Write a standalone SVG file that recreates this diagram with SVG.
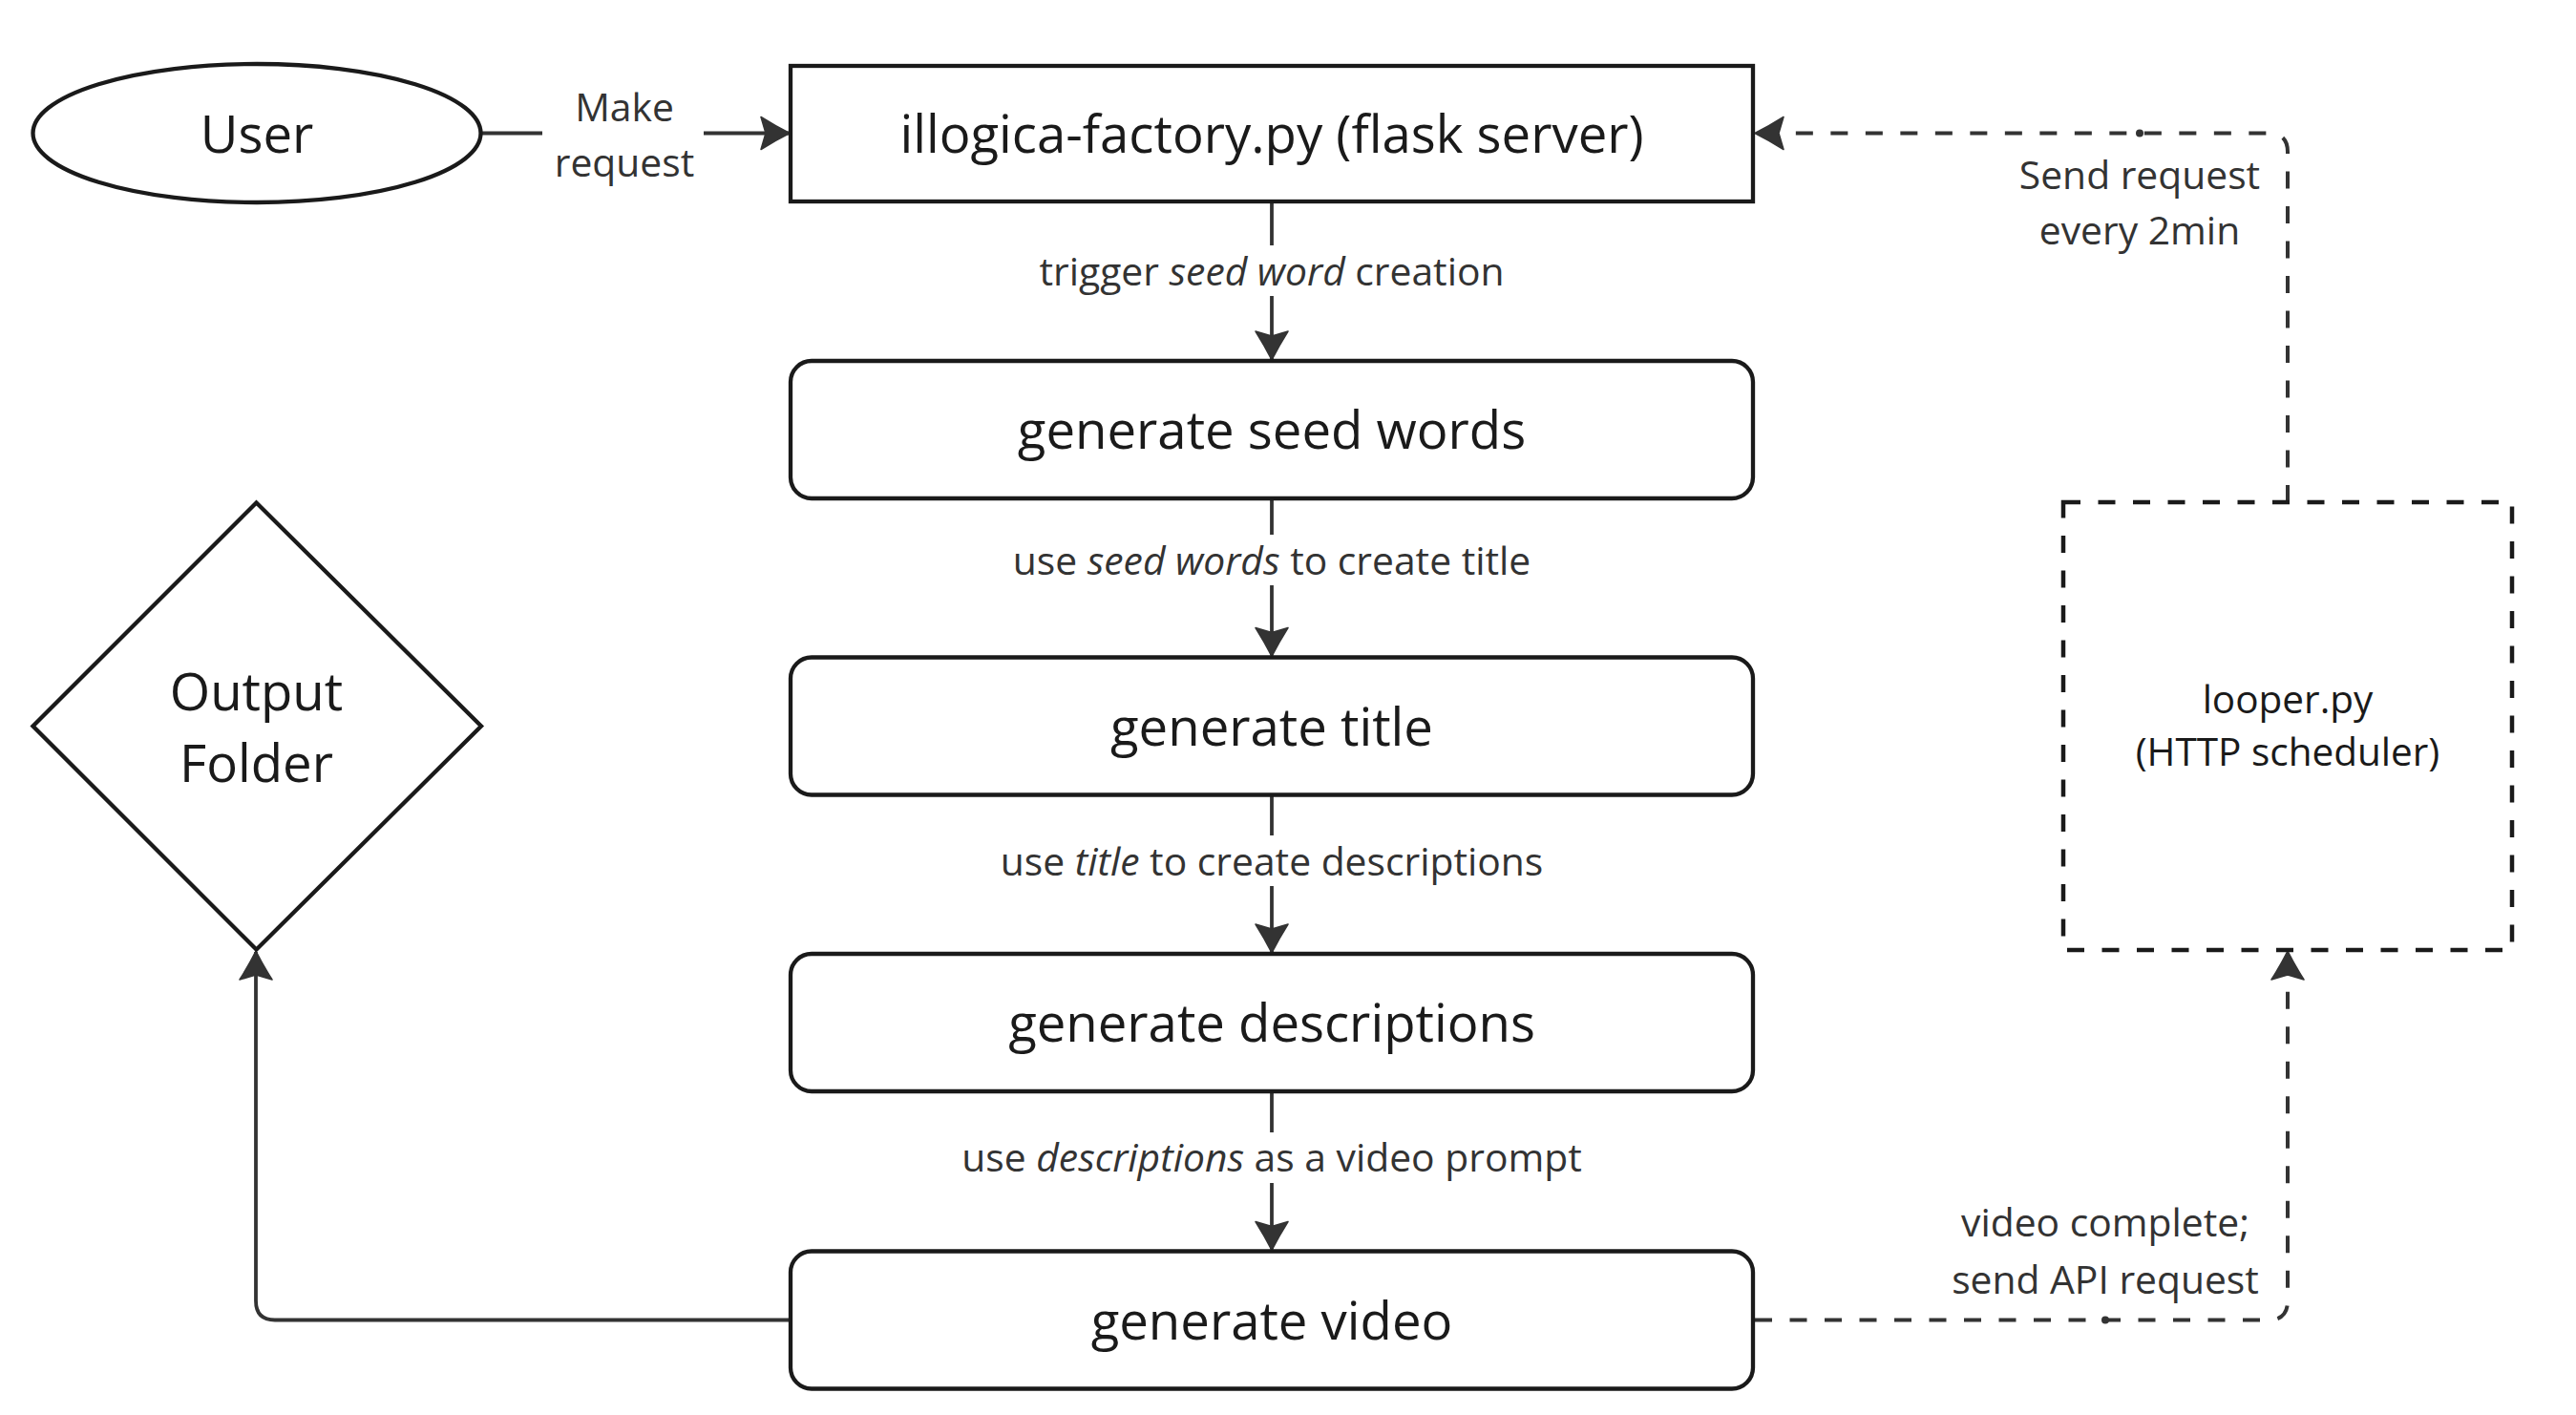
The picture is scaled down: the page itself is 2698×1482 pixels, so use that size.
<svg xmlns="http://www.w3.org/2000/svg" width="2698" height="1482" viewBox="0 0 2698 1482">
<style>
.node{fill:#ffffff;stroke:#1a1a1a;stroke-width:4.3}
.dnode{fill:#ffffff;stroke:#1a1a1a;stroke-width:4.5;stroke-dasharray:18 18.5}
.t{font-family:"Open Sans","Noto Sans",sans-serif;font-size:54.5px;fill:#1a1a1a;text-anchor:middle}
.st{font-family:"Open Sans","Noto Sans",sans-serif;font-size:40.5px;fill:#1a1a1a;text-anchor:middle}
.lbl{font-family:"Open Sans","Noto Sans",sans-serif;font-size:40.8px;fill:#333333;text-anchor:middle}
.c{fill:none;stroke:#333333;stroke-width:3.8}
.cd{fill:none;stroke:#333333;stroke-width:4;stroke-dasharray:18 18.5}
.ah{fill:#333333}
</style>
<defs>
<marker id="arr" markerUnits="userSpaceOnUse" markerWidth="44" markerHeight="44" viewBox="-34 -22 40 44" refX="0" refY="0" orient="auto">
<path class="ah" stroke="#333333" stroke-width="1.5" stroke-linejoin="round" d="M1,0 Q-14,-7.5 -29,-17 L-24,0 L-29,17 Q-14,7.5 1,0 Z"/>
</marker>
</defs>
<rect x="0" y="0" width="2698" height="1482" fill="#ffffff"/>

<g id="connectors">
<path class="c" d="M504,139.5 H568"/>
<path class="c" d="M737,139.5 H826" marker-end="url(#arr)"/>
<path class="c" d="M1332,211 V257"/>
<path class="c" d="M1332,310 V376" marker-end="url(#arr)"/>
<path class="c" d="M1332,522 V560"/>
<path class="c" d="M1332,613 V686.5" marker-end="url(#arr)"/>
<path class="c" d="M1332,833 V875"/>
<path class="c" d="M1332,928 V997" marker-end="url(#arr)"/>
<path class="c" d="M1332,1143 V1186"/>
<path class="c" d="M1332,1239 V1308.5" marker-end="url(#arr)"/>
<path class="c" d="M826,1382.5 H288 Q268,1382.5 268,1362.5 V997" marker-end="url(#arr)"/>
<path class="cd" d="M2396,526 V159 Q2396,139.5 2376,139.5 H1839" marker-end="url(#arr)"/>
<circle class="ah" cx="2241" cy="139.5" r="4"/>
<path class="cd" d="M1838,1382.5 H2376 Q2396,1382.5 2396,1362.5 V997" marker-end="url(#arr)"/>
<circle class="ah" cx="2205" cy="1382.5" r="4"/>
<text class="lbl" x="654" y="127">Make</text>
<text class="lbl" x="654" y="185">request</text>
<text class="lbl" x="1332" y="299">trigger <tspan font-style="italic">seed word</tspan> creation</text>
<text class="lbl" x="1332" y="601.5">use <tspan font-style="italic">seed words</tspan> to create title</text>
<text class="lbl" x="1332" y="916.5">use <tspan font-style="italic">title</tspan> to create descriptions</text>
<text class="lbl" x="1332" y="1227">use <tspan font-style="italic">descriptions</tspan> as a video prompt</text>
<text class="lbl" x="2241" y="198">Send request</text>
<text class="lbl" x="2241" y="256">every 2min</text>
<text class="lbl" x="2205" y="1295">video complete;</text>
<text class="lbl" x="2205" y="1355">send API request</text>
</g>

<g id="user">
<ellipse class="node" cx="269" cy="139.5" rx="234.5" ry="72.5"/>
<text class="t" x="269" y="159.5">User</text>
</g>

<g id="flask-server">
<rect class="node" x="828" y="69" width="1008" height="142"/>
<text class="t" x="1332" y="159.5">illogica-factory.py (flask server)</text>
</g>

<g id="seed-words">
<rect class="node" x="828" y="378" width="1008" height="144" rx="22" ry="22"/>
<text class="t" x="1332" y="470">generate seed words</text>
</g>

<g id="title">
<rect class="node" x="828" y="688.5" width="1008" height="144" rx="22" ry="22"/>
<text class="t" x="1332" y="780.5">generate title</text>
</g>

<g id="descriptions">
<rect class="node" x="828" y="999" width="1008" height="144" rx="22" ry="22"/>
<text class="t" x="1332" y="1091">generate descriptions</text>
</g>

<g id="video">
<rect class="node" x="828" y="1310.5" width="1008" height="144" rx="22" ry="22"/>
<text class="t" x="1332" y="1402.5">generate video</text>
</g>

<g id="output-folder">
<path class="node" d="M268.5,526.5 L504,760.5 L268.5,994.5 L34.5,760.5 Z" stroke-width="4"/>
<text class="t" x="268.5" y="743.5">Output</text>
<text class="t" x="268.5" y="818.5">Folder</text>
</g>

<g id="looper">
<rect class="dnode" x="2161" y="526" width="470" height="469"/>
<text class="st" x="2396" y="747">looper.py</text>
<text class="st" x="2396" y="802">(HTTP scheduler)</text>
</g>
</svg>
